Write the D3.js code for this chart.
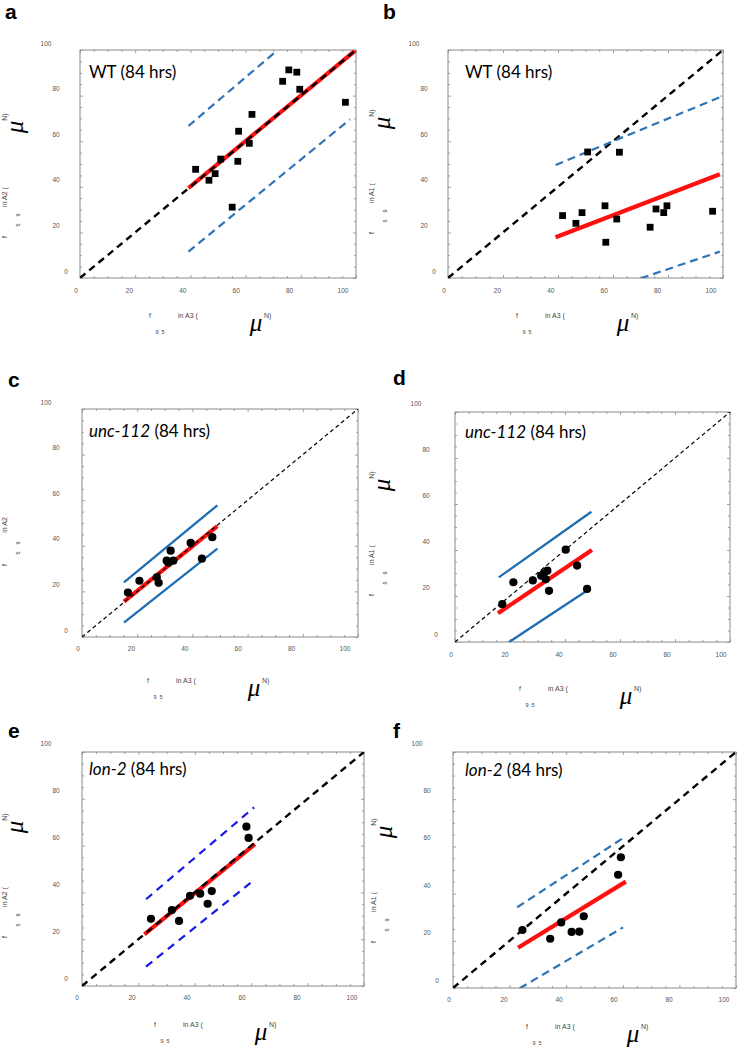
<!DOCTYPE html>
<html><head><meta charset="utf-8">
<script src="https://cdn.jsdelivr.net/npm/d3@7"></script>
<style>
html,body{margin:0;padding:0;background:#fff;}
svg{display:block;}
</style></head>
<body>
<svg id="chart" width="738" height="1050"></svg>
<script>
// ---------------- DATA ----------------
const tickVals = [0, 20, 40, 60, 80, 100];
const panelLetters = ["a", "b", "c", "d", "e", "f"];
const strainNames = ["WT", "WT", "unc-112", "unc-112", "lon-2", "lon-2"];
const timeLabel = "(84 hrs)";
const xAxisVar = "A3";
const yAxisVars = ["A2", "A1", "A2", "A1", "A2", "A1"];

// panel a : WT, A2 vs A3
const aX = [44.8, 49.8, 52.1, 54.2, 58.5, 60.6, 60.9, 64.9, 65.9, 77.4, 79.7, 82.7, 83.8, 100.9];
const aY = [44.6, 39.8, 42.7, 49.1, 28.0, 48.1, 61.3, 56.0, 68.7, 83.2, 88.2, 87.2, 79.7, 74.0];
const aFit = [[42.1, 36.3], [104.5, 96.6]];
const aUpper = [[42.1, 63.6], [75.2, 96.6]];
const aLower = [[42.1, 8.5], [102.6, 66.5]];

// panel b : WT, A1 vs A3
const bX = [44.4, 49.4, 51.7, 53.8, 60.3, 60.6, 64.7, 65.7, 77.2, 79.4, 82.3, 83.5, 100.6];
const bY = [24.3, 20.9, 25.6, 52.2, 28.6, 12.6, 22.8, 52.1, 19.2, 27.2, 25.6, 28.6, 26.2];
const bFit = [[41.8, 14.8], [103.3, 42.4]];
const bUpper = [[41.8, 46.5], [103.9, 76.5]];
const bLower = [[73.7, -3.2], [103.3, 8.5]];

// panel c : unc-112, A2 vs A3
const cX = [18.7, 23.0, 29.5, 30.2, 33.2, 33.8, 34.7, 35.7, 42.2, 46.4, 50.3];
const cY = [16.4, 21.6, 23.1, 20.7, 30.4, 29.5, 34.8, 30.4, 38.2, 31.3, 40.7];
const cFit = [[17.2, 12.4], [52.2, 45.6]];
const cUpper = [[17.2, 20.9], [52.2, 54.7]];
const cLower = [[17.2, 3.2], [52.2, 35.7]];

// panel d : unc-112, A1 vs A3
const dX = [19.0, 23.1, 30.3, 33.4, 34.4, 35.7, 35.1, 36.3, 42.5, 46.7, 50.4];
const dY = [12.9, 22.4, 23.2, 25.2, 26.3, 27.4, 23.7, 18.7, 36.5, 29.6, 19.5];
const dFit = [[17.4, 9.0], [52.2, 36.4]];
const dUpper = [[17.7, 24.5], [52.0, 52.9]];
const dLower = [[21.4, -3.6], [51.7, 19.8]];

// panel e : lon-2, A2 vs A3
const eX = [26.9, 34.5, 37.1, 41.1, 44.8, 47.5, 49.0, 61.6, 62.4];
const eY = [25.2, 28.9, 24.3, 35.0, 35.9, 31.6, 37.0, 64.4, 59.6];
const eFit = [[24.5, 18.6], [64.7, 57.0]];
const eUpper = [[25.1, 33.5], [64.4, 72.6]];
const eLower = [[25.1, 4.8], [63.2, 40.6]];

// panel f : lon-2, A1 vs A3
const fX = [26.7, 36.8, 40.8, 44.6, 47.4, 49.0, 61.5, 62.5];
const fY = [21.1, 17.4, 24.3, 20.3, 20.4, 26.9, 44.4, 51.8];
const fFit = [[25.1, 13.6], [64.3, 41.5]];
const fUpper = [[24.8, 30.7], [64.1, 60.5]];
const fLower = [[25.7, -3.5], [63.3, 22.2]];

// ---------------- LAYOUT / STYLE ----------------
const layout = [
  {box:[80,356,50,278],  lx:[76,343],  ly:[271,43],  yl:56,  xty:290, letter:[5,19],    title:[89,78],   xlab:[150,315], ylab:[4,237],   mark:"square", diag:"thick", band:"dashSteel", yMu:true,  yParen:true},
  {box:[448,723,50,278], lx:[444,711], ly:[271,43],  yl:424, xty:290, letter:[383,19],  title:[465,78],  xlab:[517,315], ylab:[371,233], mark:"square", diag:"thick", band:"dashSteel", yMu:true,  yParen:true},
  {box:[82,358,409,637], lx:[78,345],  ly:[630,402], yl:56,  xty:648, letter:[8,387],   title:[89,437],  xlab:[148,680], ylab:[4,565],   mark:"circle", diag:"thin",  band:"solid",     yMu:false, yParen:false},
  {box:[455,730,412,642],lx:[451,721], ly:[634,403], yl:426, xty:654, letter:[393,385], title:[465,438], xlab:[520,688], ylab:[371,595], mark:"circle", diag:"thin",  band:"solid",     yMu:true,  yParen:true},
  {box:[82,364,752,986], lx:[77,352],  ly:[978,743], yl:56,  xty:997, letter:[8,738],   title:[89,775],  xlab:[155,1024],ylab:[4,937],   mark:"circle", diag:"thick", band:"dashBlue",  yMu:true,  yParen:true},
  {box:[453,736,752,988],lx:[449,724], ly:[980,743], yl:427, xty:999, letter:[393,738], title:[465,776], xlab:[527,1026],ylab:[373,942], mark:"circle", diag:"thick", band:"dashSteel", yMu:true,  yParen:true}
];

const panelData = [
  {X:aX, Y:aY, fit:aFit, up:aUpper, lo:aLower},
  {X:bX, Y:bY, fit:bFit, up:bUpper, lo:bLower},
  {X:cX, Y:cY, fit:cFit, up:cUpper, lo:cLower},
  {X:dX, Y:dY, fit:dFit, up:dUpper, lo:dLower},
  {X:eX, Y:eY, fit:eFit, up:eUpper, lo:eLower},
  {X:fX, Y:fY, fit:fFit, up:fUpper, lo:fLower}
];

const bandStyles = {
  dashSteel: {color:"#2f74b5", width:2.2, dash:"8,5"},
  dashBlue:  {color:"#1a1ae6", width:2.2, dash:"8,6"},
  solid:     {color:"#1f6db3", width:2.3, dash:null}
};
const diagStyles = {
  thick: {color:"#000", width:2.4, dash:"7,5"},
  thin:  {color:"#000", width:1.2, dash:"4,3"}
};

const svg = d3.select("#chart");
svg.append("rect").attr("width",738).attr("height",1050).attr("fill","#fff");

const smallFont = "'Liberation Sans', Arial, sans-serif";
const muFont = "'Liberation Serif', 'Times New Roman', serif";

layout.forEach((L, i) => {
  const D = panelData[i];
  const [x0, x1, y0, y1] = L.box;
  const g = svg.append("g");

  // frame scale (box) and data scale (tick-label aligned)
  const fx = d3.scaleLinear().domain([0,100]).range([x0, x1]);
  const fy = d3.scaleLinear().domain([0,100]).range([y1, y0]);
  const sx = d3.scaleLinear().domain([0,100]).range(L.lx);
  const sy = d3.scaleLinear().domain([0,100]).range(L.ly);

  const clipId = "clip" + i;
  svg.append("clipPath").attr("id", clipId).append("rect")
    .attr("x", x0).attr("y", y0).attr("width", x1 - x0).attr("height", y1 - y0);

  // box
  g.append("rect").attr("x", x0).attr("y", y0).attr("width", x1 - x0).attr("height", y1 - y0)
    .attr("fill", "none").attr("stroke", "#8a8a8a").attr("stroke-width", 1);

  // inward ticks on all four sides
  const minor = d3.range(0, 101, 5);
  const tickLen = d => (d % 20 === 0 ? 3 : 2);
  const mkAxis = (axisFn, scale) => axisFn(scale).tickValues(minor).tickFormat("").tickSizeOuter(0);
  const addTicks = (sel) => {
    sel.select(".domain").remove();
    sel.selectAll(".tick line").attr("stroke", "#8a8a8a").attr("stroke-width", 0.8);
  };
  const bAx = g.append("g").attr("transform", `translate(0,${y1})`).call(mkAxis(d3.axisBottom, fx).tickSize(0));
  bAx.selectAll(".tick line").attr("y2", d => -tickLen(d)); addTicks(bAx);
  const tAx = g.append("g").attr("transform", `translate(0,${y0})`).call(mkAxis(d3.axisTop, fx).tickSize(0));
  tAx.selectAll(".tick line").attr("y2", d => tickLen(d)); addTicks(tAx);
  const lAx = g.append("g").attr("transform", `translate(${x0},0)`).call(mkAxis(d3.axisLeft, fy).tickSize(0));
  lAx.selectAll(".tick line").attr("x2", d => tickLen(d)); addTicks(lAx);
  const rAx = g.append("g").attr("transform", `translate(${x1},0)`).call(mkAxis(d3.axisRight, fy).tickSize(0));
  rAx.selectAll(".tick line").attr("x2", d => -tickLen(d)); addTicks(rAx);

  // tick labels
  g.selectAll(".xtl").data(tickVals).enter().append("text")
    .attr("x", d => sx(d)).attr("y", L.xty)
    .attr("text-anchor", "middle").attr("dominant-baseline", "central")
    .attr("font-family", smallFont).attr("font-size", 6.5).attr("fill", "#555")
    .text(d => d);
  g.selectAll(".ytl").data(tickVals).enter().append("text")
    .attr("x", d => L.yl + (2 - String(d).length) * 10)
    .attr("y", d => sy(d))
    .attr("text-anchor", "middle").attr("dominant-baseline", "central")
    .attr("font-family", smallFont).attr("font-size", 6.5).attr("fill", "#555")
    .text(d => d);

  // plot content clipped to the box
  const c = g.append("g").attr("clip-path", `url(#${clipId})`);
  const line = d3.line().x(d => sx(d[0])).y(d => sy(d[1]));
  const fline = d3.line().x(d => fx(d[0])).y(d => fy(d[1]));

  // red fit line
  c.append("path").attr("d", line(D.fit)).attr("fill", "none")
    .attr("stroke", "#ff1010").attr("stroke-width", 4.2);

  // identity diagonal
  const ds = diagStyles[L.diag];
  c.append("path").attr("d", fline([[0,0],[100,100]])).attr("fill", "none")
    .attr("stroke", ds.color).attr("stroke-width", ds.width).attr("stroke-dasharray", ds.dash);

  // prediction band lines
  const bs = bandStyles[L.band];
  [D.up, D.lo].forEach(seg => {
    const p = c.append("path").attr("d", line(seg)).attr("fill", "none")
      .attr("stroke", bs.color).attr("stroke-width", bs.width);
    if (bs.dash) p.attr("stroke-dasharray", bs.dash);
  });

  // points
  const pts = D.X.map((x, k) => [x, D.Y[k]]);
  if (L.mark === "square") {
    const s = 6.8;
    g.selectAll(".pt").data(pts).enter().append("rect")
      .attr("x", d => sx(d[0]) - s / 2).attr("y", d => sy(d[1]) - s / 2)
      .attr("width", s).attr("height", s).attr("fill", "#000");
  } else {
    g.selectAll(".pt").data(pts).enter().append("circle")
      .attr("cx", d => sx(d[0])).attr("cy", d => sy(d[1]))
      .attr("r", 4.1).attr("fill", "#000");
  }

  // panel letter
  g.append("text").attr("x", L.letter[0]).attr("y", L.letter[1])
    .attr("font-family", "'Liberation Sans', Arial, sans-serif").attr("font-weight", "bold")
    .attr("font-size", 21).attr("fill", "#000").text(panelLetters[i]);

  // title
  const t = g.append("text").attr("x", L.title[0]).attr("y", L.title[1])
    .attr("font-family", "Lato, 'Open Sans', sans-serif").attr("font-size", 17).attr("fill", "#000");
  if (strainNames[i] === "WT") {
    t.append("tspan").text("WT ");
  } else {
    t.append("tspan").attr("font-style", "italic").text(strainNames[i]);
    t.append("tspan").text(" ");
  }
  t.append("tspan").text(timeLabel);

  // x-axis label (fragmented)
  const [ax, ay] = L.xlab;
  const st = (sel) => sel.attr("font-family", smallFont).attr("fill", "#444").attr("dominant-baseline", "central");
  st(g.append("text").attr("x", ax).attr("y", ay).attr("font-size", 7).attr("text-anchor", "middle").text("f"));
  st(g.append("text").attr("x", ax + 7).attr("y", ay + 17).attr("font-size", 5.5).attr("text-anchor", "middle").text("9"));
  st(g.append("text").attr("x", ax + 13).attr("y", ay + 17).attr("font-size", 5.5).attr("text-anchor", "middle").text("5"));
  st(g.append("text").attr("x", ax + 28).attr("y", ay).attr("font-size", 7).text("in " + xAxisVar + " ("));
  st(g.append("text").attr("x", ax + 114).attr("y", ay).attr("font-size", 7).text("N)"));
  g.append("text").attr("x", ax + 106).attr("y", ay + 16)
    .attr("text-anchor", "middle").attr("font-family", muFont).attr("font-style", "italic")
    .attr("font-size", 25).attr("fill", "#000").text("μ");

  // y-axis label (fragmented, rotated)
  const [bx, by] = L.ylab;
  const rt = (x, y, size, txt, anchor) => st(g.append("text")
      .attr("transform", `translate(${x},${y}) rotate(-90)`)
      .attr("font-size", size).attr("text-anchor", anchor || "middle").text(txt));
  rt(bx, by, 7, "f");
  rt(bx + 14, by - 22, 5.5, "9");
  rt(bx + 14, by - 12, 5.5, "5");
  rt(bx, by - 40, 7, "in " + yAxisVars[i] + (L.yParen ? " (" : ""));
  if (L.yMu) {
    rt(bx, by - 120, 7, "N)");
    g.append("text").attr("transform", `translate(${bx + 19},${by - 110}) rotate(-90)`)
      .attr("text-anchor", "middle").attr("font-family", muFont).attr("font-style", "italic")
      .attr("font-size", 25).attr("fill", "#000").text("μ");
  }
});
</script>
</body></html>
